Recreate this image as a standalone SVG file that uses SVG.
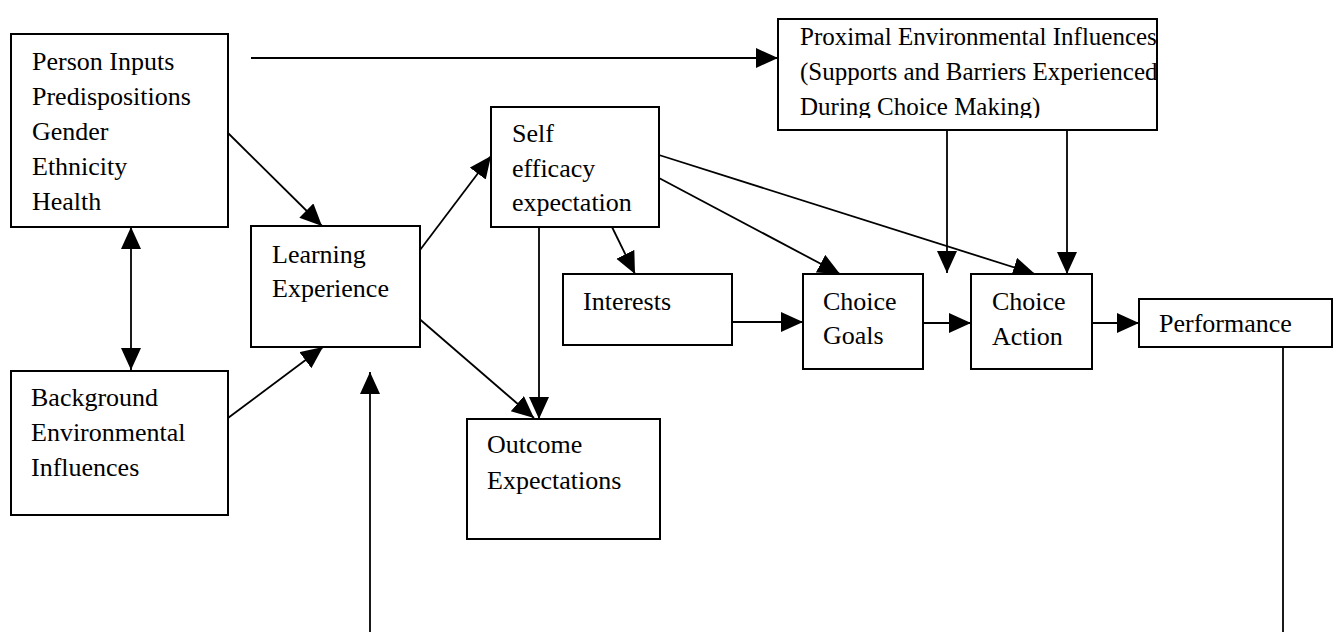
<svg xmlns="http://www.w3.org/2000/svg" width="1337" height="632" viewBox="0 0 1337 632">
  <style>
    .box { fill: #ffffff; stroke: #000000; stroke-width: 2; }
    .lbl { font-family: 'Liberation Serif', 'DejaVu Serif', serif; font-size: 26px; fill: #000000; }
    .small { font-size: 25px; }
    .edge { fill: none; stroke: #000000; stroke-width: 1.8; }
    .arr { marker-end: url(#head); }
  </style>
  <defs>
    <marker id="head" markerUnits="userSpaceOnUse" markerWidth="24" markerHeight="22" refX="22" refY="10" orient="auto">
      <path d="M0,0 L22,10 L0,20 Z" fill="#000000"/>
    </marker>
    <marker id="tail" markerUnits="userSpaceOnUse" markerWidth="24" markerHeight="22" refX="0" refY="10" orient="auto">
      <path d="M22,0 L0,10 L22,20 Z" fill="#000000"/>
    </marker>
    <clipPath id="proxClip">
      <rect x="778" y="19" width="380" height="99"/>
    </clipPath>
  </defs>

  <!-- connectors -->
  <g id="connectors">
    <line class="edge arr" x1="251" y1="58" x2="778" y2="58"/>
    <line class="edge arr" x1="228" y1="133" x2="322" y2="226"/>
    <line class="edge" x1="131" y1="227" x2="131" y2="370" marker-start="url(#tail)" marker-end="url(#head)"/>
    <line class="edge arr" x1="228" y1="418" x2="323" y2="347"/>
    <line class="edge arr" x1="420" y1="250" x2="491" y2="156"/>
    <line class="edge arr" x1="394" y1="297" x2="534" y2="418"/>
    <line class="edge arr" x1="539" y1="227" x2="539" y2="419"/>
    <line class="edge arr" x1="612" y1="227" x2="635" y2="274"/>
    <line class="edge arr" x1="659" y1="178" x2="840" y2="274"/>
    <line class="edge arr" x1="659" y1="155" x2="1035" y2="274"/>
    <line class="edge arr" x1="947" y1="130" x2="947" y2="273"/>
    <line class="edge arr" x1="1067" y1="130" x2="1067" y2="274"/>
    <line class="edge arr" x1="732" y1="322" x2="803" y2="322"/>
    <line class="edge arr" x1="923" y1="323" x2="971" y2="323"/>
    <line class="edge arr" x1="1092" y1="323" x2="1139" y2="323"/>
    <line class="edge" x1="1283" y1="347" x2="1283" y2="632"/>
    <line class="edge arr" x1="370" y1="632" x2="370" y2="372"/>
  </g>

  <!-- nodes -->
  <g id="person-inputs">
    <rect class="box" x="11" y="34" width="217" height="193"/>
    <text class="lbl" x="32" y="70">Person Inputs</text>
    <text class="lbl" x="32" y="105">Predispositions</text>
    <text class="lbl" x="32" y="140">Gender</text>
    <text class="lbl" x="32" y="175">Ethnicity</text>
    <text class="lbl" x="32" y="210">Health</text>
  </g>

  <g id="background">
    <rect class="box" x="11" y="371" width="217" height="144"/>
    <text class="lbl" x="31" y="406">Background</text>
    <text class="lbl" x="31" y="441">Environmental</text>
    <text class="lbl" x="31" y="476">Influences</text>
  </g>

  <g id="learning">
    <rect class="box" x="251" y="226" width="169" height="121"/>
    <text class="lbl" x="272" y="263">Learning</text>
    <text class="lbl" x="272" y="297">Experience</text>
  </g>

  <g id="self-efficacy">
    <rect class="box" x="491" y="107" width="168" height="120"/>
    <text class="lbl" x="512" y="142">Self</text>
    <text class="lbl" x="512" y="177">efficacy</text>
    <text class="lbl" x="512" y="211">expectation</text>
  </g>

  <g id="interests">
    <rect class="box" x="563" y="274" width="169" height="71"/>
    <text class="lbl" x="583" y="310">Interests</text>
  </g>

  <g id="outcome">
    <rect class="box" x="467" y="419" width="193" height="120"/>
    <text class="lbl" x="487" y="453">Outcome</text>
    <text class="lbl" x="487" y="489">Expectations</text>
  </g>

  <g id="proximal">
    <rect class="box" x="778" y="19" width="379" height="111"/>
    <g clip-path="url(#proxClip)">
      <text class="lbl small" x="800" y="45">Proximal Environmental Influences</text>
      <text class="lbl small" x="800" y="80">(Supports and Barriers Experienced</text>
      <text class="lbl small" x="800" y="115">During Choice Making)</text>
    </g>
  </g>

  <g id="choice-goals">
    <rect class="box" x="803" y="274" width="120" height="95"/>
    <text class="lbl" x="823" y="310">Choice</text>
    <text class="lbl" x="823" y="344">Goals</text>
  </g>

  <g id="choice-action">
    <rect class="box" x="971" y="274" width="121" height="95"/>
    <text class="lbl" x="992" y="310">Choice</text>
    <text class="lbl" x="992" y="345">Action</text>
  </g>

  <g id="performance">
    <rect class="box" x="1139" y="299" width="193" height="48"/>
    <text class="lbl" x="1159" y="332">Performance</text>
  </g>
</svg>
